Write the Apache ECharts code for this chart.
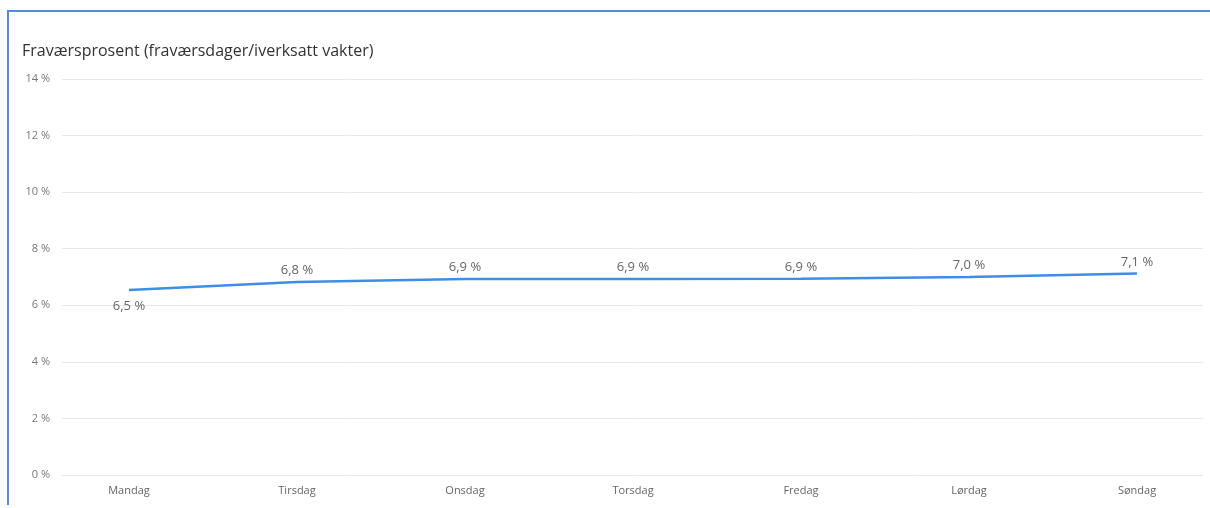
<!DOCTYPE html>
<html>
<head>
<meta charset="utf-8">
<script src="https://cdn.jsdelivr.net/npm/echarts@6/dist/echarts.min.js"></script>
<style>
  html, body { margin: 0; padding: 0; background: #fff; }
  #frame { position: absolute; left: 7px; top: 10px; width: 1203px; height: 495px;
           border-top: 2px solid #5a8ad0; border-left: 2px solid #5a8ad0; box-sizing: border-box; }
  #myChart { position: absolute; left: 0; top: 0; width: 1210px; height: 508px; }
</style>
</head>
<body>
<div id="frame"></div>
<div id="myChart"></div>
<script>
const days = ['Mandag', 'Tirsdag', 'Onsdag', 'Torsdag', 'Fredag', 'Lørdag', 'Søndag'];
const absence = [6.54, 6.82, 6.93, 6.93, 6.94, 7.0, 7.12];

const myChart = echarts.init(document.getElementById('myChart'));
const fontFam = '"Open Sans", "Noto Sans", sans-serif';

const option = {
    title: {
        text: 'Fraværsprosent (fraværsdager/iverksatt vakter)',
        left: 17,
        top: 38,
        textStyle: { fontFamily: fontFam, fontSize: 16, fontWeight: 'normal', color: '#333' }
    },
    grid: [
        // y akse + rutenett
        { left: 62, right: 7, top: 79, bottom: 33 },
        // selve linja
        { left: 129, right: 73, top: 79, bottom: 33 }
    ],
    xAxis: [
        { type: 'category', gridIndex: 0, data: days, show: false },
        {
            type: 'category', gridIndex: 1, data: days, boundaryGap: false,
            axisLine: { show: false }, axisTick: { show: false },
            axisLabel: { color: '#666', fontSize: 11, fontFamily: fontFam, margin: 10 }
        }
    ],
    yAxis: [
        {
            type: 'value', gridIndex: 0, min: 0, max: 14, interval: 2,
            axisLine: { show: false }, axisTick: { show: false },
            axisLabel: { color: '#777', fontSize: 11, fontFamily: fontFam, margin: 12,
                         formatter: v => v + ' %' },
            splitLine: { lineStyle: { color: '#e8e8e8', width: 1 } }
        },
        { type: 'value', gridIndex: 1, min: 0, max: 14, show: false, splitLine: { show: false } }
    ],
    series: [
        {
            type: 'line',
            xAxisIndex: 1,
            yAxisIndex: 1,
            data: absence.map((v, i) => ({
                value: v,
                label: i === 0 ? { position: 'bottom', distance: 10 } : { position: 'top', distance: 5 }
            })),
            showSymbol: true,
            symbolSize: 0,
            lineStyle: { color: '#3d8ee6', width: 2.5 },
            itemStyle: { color: '#3d8ee6' },
            label: {
                show: true,
                color: '#666',
                fontSize: 13,
                fontFamily: fontFam,
                formatter: p => p.value.toFixed(1).replace('.', ',') + ' %'
            },
            silent: true
        }
    ]
};
myChart.setOption(option);
window.addEventListener('resize', myChart.resize);
</script>
</body>
</html>
